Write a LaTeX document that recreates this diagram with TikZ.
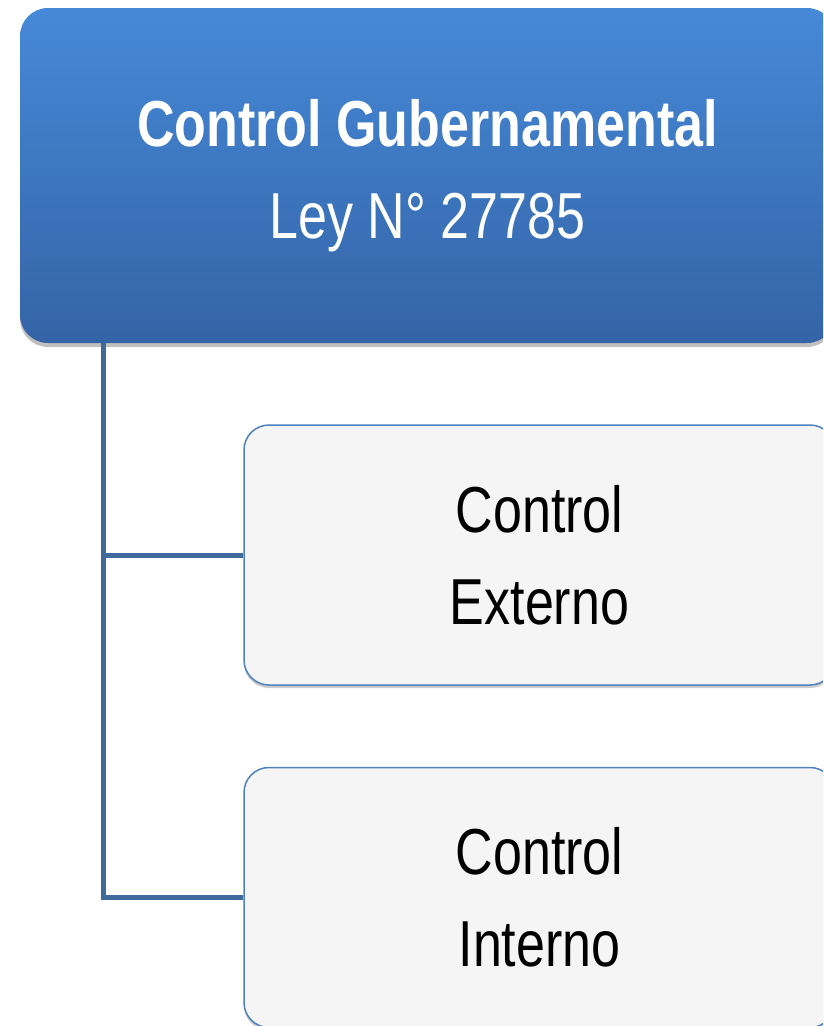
\documentclass[tikz,border=0pt]{standalone}
\usepackage{fontspec}
\setmainfont{Liberation Sans}[FakeStretch=0.8]
\usetikzlibrary{shadows}
\definecolor{headtop}{HTML}{4689D8}
\definecolor{headbot}{HTML}{3464A6}
\definecolor{linkblue}{HTML}{416A9C}
\definecolor{boxedge}{HTML}{4F81BD}
\definecolor{boxfill}{HTML}{F5F5F5}
\begin{document}
\begin{tikzpicture}[x=1pt,y=-1pt,
  headbox/.style={draw=none, rounded corners=28pt,
    top color=headtop, bottom color=headbot,
    minimum width=815pt, minimum height=335pt, inner sep=0pt,
    text=white, align=center, font=\fontsize{65}{92}\selectfont,
    drop shadow={shadow xshift=0pt, shadow yshift=-4pt, opacity=0.25, fill=black}},
  subbox/.style={draw=boxedge, line width=1.5pt, rounded corners=25pt,
    fill=boxfill, minimum width=591pt, minimum height=260pt, inner sep=0pt,
    text=black, align=center, font=\fontsize{65}{92}\selectfont,
    drop shadow={shadow xshift=0pt, shadow yshift=-3pt, opacity=0.2, fill=black}},
  link/.style={draw=linkblue, line width=5pt}]
  \clip (0,0) rectangle (823,1026);
  \fill[white] (0,0) rectangle (823,1026);

  % root of the tree connectors, under the parent box
  \coordinate (trunk) at (103,343);

  % parent and child boxes
  \node[headbox] (head) at (427.5,175.5) {\textbf{Control Gubernamental}\\Ley N° 27785};
  \node[subbox] (ext) at (539.5,555) {Control\\Externo};
  \node[subbox] (int) at (539.5,897.5) {Control\\Interno};

  % elbow connectors from the trunk to each child
  \draw[link] (trunk) |- (ext.west);
  \draw[link] (trunk) |- (int.west);
\end{tikzpicture}
\end{document}
